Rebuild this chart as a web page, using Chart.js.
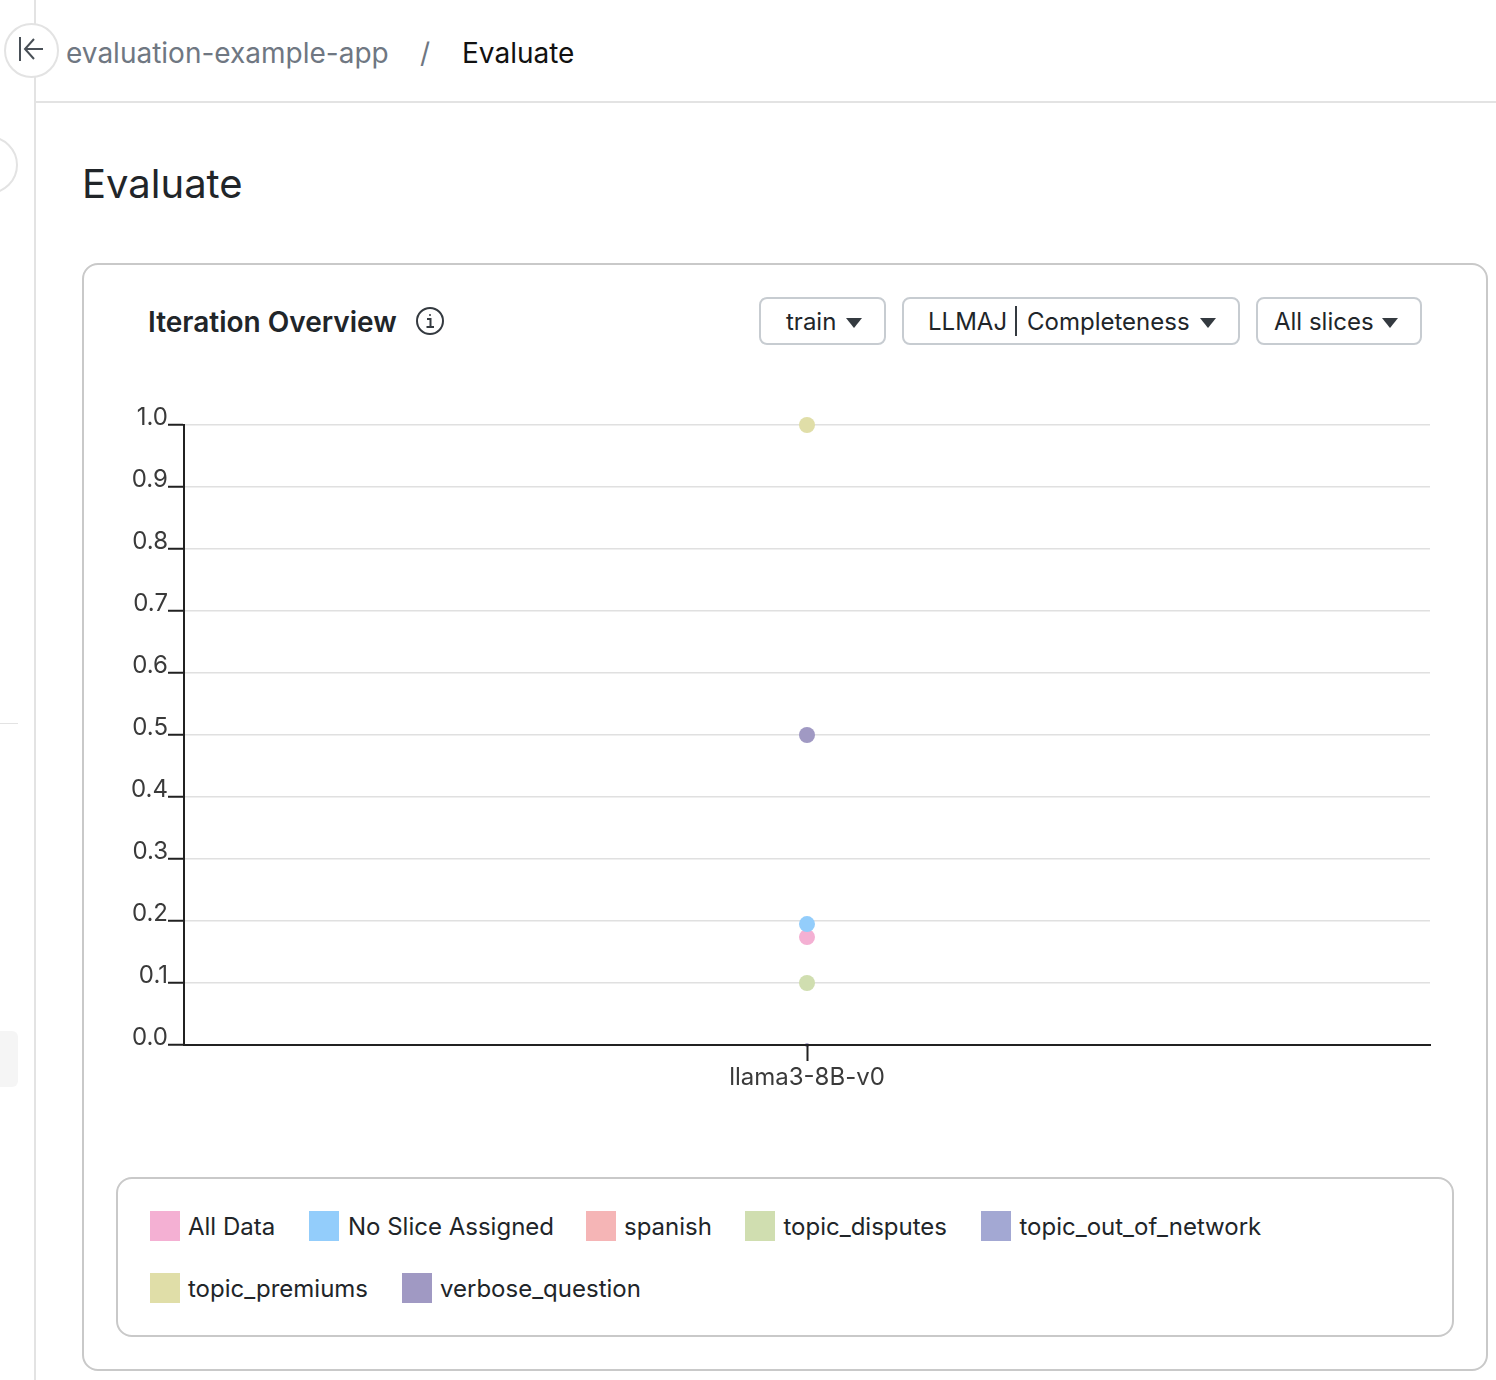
<!DOCTYPE html>
<html>
<head>
<meta charset="utf-8">
<title>Evaluate</title>
<script src="https://cdn.jsdelivr.net/npm/chart.js@4"></script>
<style>
  html, body { margin: 0; padding: 0; background: #fff; }
  body { width: 1496px; height: 1380px; position: relative; overflow: hidden; font-family: Inter, "Noto Sans", sans-serif; color: #212529; }
  .abs { position: absolute; white-space: nowrap; }
  .rail { left: 34px; top: 0; width: 2px; height: 1380px; background: #e3e3e3; }
  .topline { left: 36px; top: 101px; right: 0; height: 2px; background: #e3e3e3; }
  .back { left: 4px; top: 23px; width: 51px; height: 51px; border: 2px solid #e3e3e3; border-radius: 50%; background: #fff; }
  .stub1 { left: -40px; top: 136px; width: 54px; height: 54px; border: 2px solid #e3e3e3; border-radius: 50%; background: #fff; }
  .stub2 { left: 0; top: 723px; width: 18px; height: 1px; background: #e3e3e3; }
  .stub3 { left: 0; top: 1031px; width: 18px; height: 56px; background: #f5f5f5; border-radius: 0 6px 6px 0; }
  .crumb { font-size: 28px; top: 36px; line-height: 35px; }
  .card { left: 82px; top: 263px; width: 1402px; height: 1104px; border: 2px solid #c9c9c9; border-radius: 16px; }
  .legendbox { left: 116px; top: 1177px; width: 1334px; height: 156px; border: 2px solid #c9c9c9; border-radius: 16px; }
  .btn { top: 297px; height: 44px; border: 2px solid #c7ccd1; border-radius: 8px; background: #fff; font-size: 24px; line-height: 46px; }
  .btn span { position: absolute; top: 0; }
  .caret { position: absolute; top: 19px; width: 0; height: 0; border-left: 8px solid transparent; border-right: 8px solid transparent; border-top: 10px solid #343a40; }
  .swatch { width: 30px; height: 30px; }
  .legtext { font-size: 24px; line-height: 32px; color: #212529; }
  #chartWrap { position: absolute; left: 120px; top: 395px; width: 1320px; height: 710px; }
</style>
</head>
<body>
<div class="abs rail"></div>
<div class="abs topline"></div>
<div class="abs stub1"></div>
<div class="abs stub2"></div>
<div class="abs stub3"></div>
<div class="abs back">
  <svg width="51" height="51" viewBox="0 0 51 51" fill="none" stroke="#495057" stroke-width="2">
    <path d="M14 12 V36 M37 24 H19 M28 14 L19 24 L28 34"/>
  </svg>
</div>
<div class="abs crumb" style="left:66px;color:#6f7782;">evaluation-example-app</div>
<div class="abs crumb" style="left:420px;color:#6f7782;">/</div>
<div class="abs crumb" style="left:462px;color:#111;">Evaluate</div>
<div class="abs" style="left:82px;top:158px;font-size:40px;line-height:52px;color:#212529;">Evaluate</div>

<div class="abs card"></div>
<div class="abs" style="left:148px;top:304px;font-size:28px;line-height:36px;font-weight:600;color:#212529;">Iteration Overview</div>
<svg class="abs" style="left:415px;top:306px;" width="30" height="30" viewBox="0 0 30 30" fill="none" stroke="#343a40" stroke-width="2">
  <circle cx="15" cy="15" r="13"/>
  <path d="M12 13 H15.5 V21 M11.5 21 H19"/>
  <circle cx="15" cy="9" r="1" fill="#343a40" stroke="none"/>
</svg>

<div class="abs btn" style="left:759px;width:123px;"><span style="left:25px;">train</span><i class="caret" style="left:85px;"></i></div>
<div class="abs btn" style="left:902px;width:334px;"><span style="left:24px;">LLMAJ</span><i style="position:absolute;left:111px;top:7px;width:2px;height:30px;background:#343a40;"></i><span style="left:123px;">Completeness</span><i class="caret" style="left:296px;"></i></div>
<div class="abs btn" style="left:1256px;width:162px;"><span style="left:16px;">All slices</span><i class="caret" style="left:124px;"></i></div>

<div id="chartWrap"><canvas id="myChart"></canvas></div>

<div class="abs legendbox"></div>
<div id="legend"></div>

<script>
const categories = ["llama3-8B-v0"];
const yTicks = [0, 0.1, 0.2, 0.3, 0.4, 0.5, 0.6, 0.7, 0.8, 0.9, 1.0];

const sliceNames = ["All Data", "No Slice Assigned", "spanish", "topic_disputes", "topic_out_of_network", "topic_premiums", "verbose_question"];
const sliceColors = ["#f4b0d3", "#93cdfb", "#f5b5b6", "#d0deb0", "#a3a8d3", "#e0dea8", "#a099c3"];

const allData = [0.174];
const noSlice = [0.195];
const spanish = [0];
const topicDisputes = [0.1];
const topicOutOfNetwork = [0];
const topicPremiums = [1.0];
const verboseQuestion = [0.5];

const sliceValues = [allData, noSlice, spanish, topicDisputes, topicOutOfNetwork, topicPremiums, verboseQuestion];

const AXIS_COLOR = "#212121";
const plotLeft = 64; // 184 on the page

// the legend is plain html, same as the original page
const legendSpots = [
  [150, 1211, 188], [309, 1211, 348], [586, 1211, 624], [745, 1211, 783.5], [981, 1211, 1019.5],
  [150, 1273, 188], [402, 1273, 440]
];
const legendEl = document.getElementById("legend");
sliceNames.forEach((name, i) => {
  const spot = legendSpots[i];
  legendEl.innerHTML += `<div class="abs swatch" style="left:${spot[0]}px;top:${spot[1]}px;background:${sliceColors[i]};"></div>` +
    `<div class="abs legtext" style="left:${spot[2]}px;top:${spot[1]}px;">${name}</div>`;
});

const datasets = sliceNames.map((name, i) => ({
  label: name,
  data: sliceValues[i],
  backgroundColor: sliceColors[i],
  borderColor: sliceColors[i],
  // the two slices sitting on 0 only peek out above the axis
  pointRadius: sliceValues[i][0] === 0 ? 2 : 8,
  pointBorderWidth: 0,
  showLine: false,
  order: sliceNames.length - i
}));

const ctx = document.getElementById("myChart").getContext("2d");

const chart = new Chart(ctx, {
  type: "line",
  data: { labels: categories, datasets: datasets },
  options: {
    responsive: true,
    maintainAspectRatio: false,
    animation: false,
    clip: false,
    layout: { padding: { top: 30, right: 10, bottom: 0, left: 0 } },
    plugins: { legend: { display: false }, tooltip: { enabled: false } },
    scales: {
      x: {
        type: "category",
        offset: true,
        border: { color: AXIS_COLOR, width: 2, z: 1 },
        grid: { drawOnChartArea: false, color: AXIS_COLOR, tickLength: 16, tickWidth: 2, z: 1 },
        ticks: { color: "#3a3a3a", font: { family: "Inter", size: 24 }, padding: 2, maxRotation: 0 },
        afterFit: (scale) => { scale.height = 60; }
      },
      y: {
        min: 0,
        max: 1,
        border: { color: AXIS_COLOR, width: 2 },
        afterBuildTicks: (scale) => { scale.ticks = yTicks.map((v) => ({ value: v })); },
        afterFit: (scale) => { scale.width = plotLeft; },
        grid: {
          color: "#e0e0e0",
          lineWidth: 1.5,
          tickColor: AXIS_COLOR,
          tickLength: 16,
          tickWidth: 2
        },
        ticks: {
          color: "#3a3a3a",
          font: { family: "Inter", size: 24 },
          padding: 0,
          labelOffset: -7,
          callback: (v) => Number(v).toFixed(1)
        }
      }
    }
  }
});
</script>
</body>
</html>
